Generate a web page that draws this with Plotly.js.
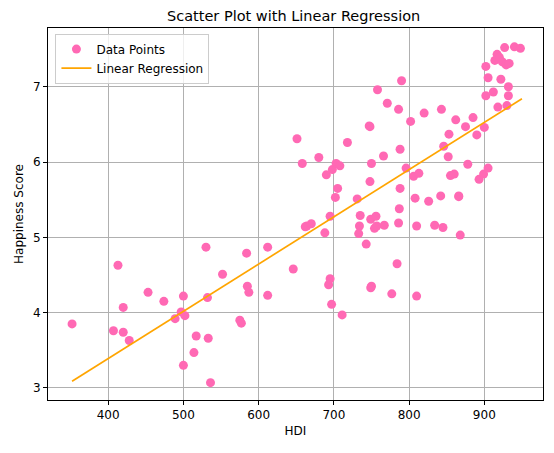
<!DOCTYPE html>
<html>
<head>
<meta charset="utf-8">
<script src="https://cdn.plot.ly/plotly-3.0.1.min.js"></script>
<style>body{margin:0}#chart{width:554px;height:453px}</style>
</head>
<body>
<div id="chart"></div>
<script>
// HDI vs happiness
const hdi = [352,407,413,420,420,428,453,474,489,497,500,500,502,514,517,530,532,533,536,552,
  575,577,584,585,587,612,612,646,651,658,662,664,670,680,688,690,693,695,695,697,
  698,702,703,705,708,711,718,731,733,734,735,743,747,748,748,749,750,750,749,754,
  756,757,758,766,767,771,777,784,786,786,787,788,788,790,796,802,806,808,810,810,
  813,820,826,834,842,843,845,846,852,853,855,860,862,866,866,868,875,878,885,890,
  893,899,900,902,902,905,905,912,914,917,918,920,922,924,927,929,930,932,932,933,940,948];
const happiness = [3.85,3.76,4.63,4.07,3.74,3.63,4.27,4.15,3.92,4.01,4.22,3.30,3.96,3.47,3.69,4.87,4.20,3.66,3.07,4.51,
  3.90,3.86,4.79,4.35,4.27,4.87,4.23,4.58,6.31,5.98,5.14,5.15,5.18,6.06,5.06,5.83,4.37,4.45,5.28,4.11,
  5.90,5.53,5.98,5.65,5.95,3.97,6.26,5.51,5.05,5.15,5.29,4.91,6.48,6.47,5.74,5.24,5.98,4.35,4.33,5.12,
  5.28,5.15,6.96,6.08,5.16,6.78,4.25,4.65,5.19,6.70,5.38,6.17,5.65,7.08,5.92,6.54,5.81,5.52,5.15,4.22,
  5.85,6.65,5.48,5.16,5.55,6.70,5.13,6.21,6.07,6.37,5.82,5.84,6.56,5.55,5.54,5.03,6.47,5.97,6.59,6.36,
  5.77,5.84,6.46,6.88,7.27,7.12,5.92,6.93,7.35,7.43,6.73,7.39,7.10,7.33,7.52,7.29,6.75,7.00,6.88,7.31,7.53,7.51];
const regX = [352, 950];
const regY = [3.09, 6.84];

const font = {family: 'DejaVu Sans', size: 12, color: '#000'};
const axis = {showline: true, mirror: true, linecolor: '#000', linewidth: 1, ticks: 'outside',
  ticklen: 4, tickcolor: '#000', showgrid: true, gridcolor: '#b0b0b0', gridwidth: 1, zeroline: false,
  tickfont: font};

Plotly.newPlot('chart', [
  {x: hdi, y: happiness, mode: 'markers', type: 'scatter', name: 'Data Points',
   marker: {color: '#ff69b4', size: 9}},
  {x: regX, y: regY, mode: 'lines', type: 'scatter', name: 'Linear Regression',
   line: {color: 'orange', width: 1.7}}
], {
  width: 554, height: 453,
  margin: {l: 48, r: 11, t: 28, b: 53},
  paper_bgcolor: '#fff', plot_bgcolor: '#fff',
  font: font,
  title: {text: 'Scatter Plot with Linear Regression', font: {family: 'DejaVu Sans', size: 14.5, color: '#000'}, x: 0.53, y: 0.975},
  xaxis: Object.assign({}, axis, {range: [320, 978], tickvals: [400,500,600,700,800,900],
    title: {text: 'HDI', font: font, standoff: 5}}),
  yaxis: Object.assign({}, axis, {range: [2.84, 7.78], tickvals: [3,4,5,6,7],
    title: {text: 'Happiness Score', font: font, standoff: 6}}),
  legend: {x: 0.015, y: 0.985, xanchor: 'left', yanchor: 'top', bgcolor: 'rgba(255,255,255,0.8)',
    bordercolor: '#ccc', borderwidth: 1, font: font}
}, {displayModeBar: false});
</script>
</body>
</html>
